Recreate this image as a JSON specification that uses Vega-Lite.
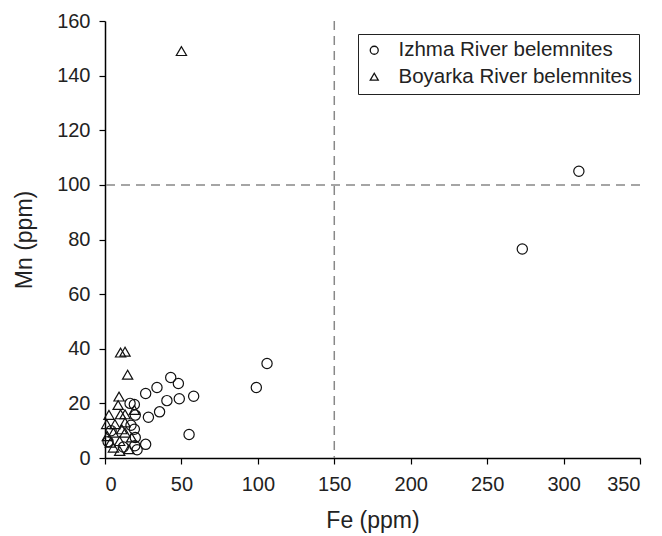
{
  "$schema": "https://vega.github.io/schema/vega-lite/v6.json",
  "width": 535,
  "height": 437,
  "autosize": {"type": "none"},
  "padding": {"left": 105, "top": 21, "right": 22, "bottom": 78},
  "background": "white",
  "config": {
    "view": {"stroke": null},
    "font": "Liberation Sans",
    "axis": {"domainColor": "#000", "domainWidth": 1.5, "tickColor": "#000", "tickWidth": 1.2, "tickSize": 6, "labelFontSize": 20, "labelColor": "#222", "titleFontSize": 23, "titleFontWeight": "normal", "titleColor": "#222", "grid": false}
  },
  "layer": [
    {
      "data": {"values": [{"v": 150}]},
      "mark": {"type": "rule", "strokeDash": [9, 6], "color": "#888", "strokeWidth": 1.5},
      "encoding": {"x": {"field": "v", "type": "quantitative"}}
    },
    {
      "data": {"values": [{"v": 100}]},
      "mark": {"type": "rule", "strokeDash": [9, 6], "color": "#888", "strokeWidth": 1.5},
      "encoding": {"y": {"field": "v", "type": "quantitative"}}
    },
    {
      "data": {"values": [
        {"group": "Izhma River belemnites", "Fe": 310, "Mn": 105},
        {"group": "Izhma River belemnites", "Fe": 273, "Mn": 76.5},
        {"group": "Izhma River belemnites", "Fe": 106, "Mn": 34.6},
        {"group": "Izhma River belemnites", "Fe": 99, "Mn": 25.8},
        {"group": "Izhma River belemnites", "Fe": 43, "Mn": 29.5},
        {"group": "Izhma River belemnites", "Fe": 48, "Mn": 27.3},
        {"group": "Izhma River belemnites", "Fe": 34, "Mn": 25.8},
        {"group": "Izhma River belemnites", "Fe": 26.6, "Mn": 23.6},
        {"group": "Izhma River belemnites", "Fe": 58, "Mn": 22.6},
        {"group": "Izhma River belemnites", "Fe": 48.6, "Mn": 21.7},
        {"group": "Izhma River belemnites", "Fe": 40.5, "Mn": 21},
        {"group": "Izhma River belemnites", "Fe": 35.7, "Mn": 16.9},
        {"group": "Izhma River belemnites", "Fe": 28.4, "Mn": 14.9},
        {"group": "Izhma River belemnites", "Fe": 55, "Mn": 8.6},
        {"group": "Izhma River belemnites", "Fe": 26.6, "Mn": 5},
        {"group": "Izhma River belemnites", "Fe": 19.2, "Mn": 19.6},
        {"group": "Izhma River belemnites", "Fe": 16.4, "Mn": 20},
        {"group": "Izhma River belemnites", "Fe": 19.8, "Mn": 15.7},
        {"group": "Izhma River belemnites", "Fe": 19.2, "Mn": 10.5},
        {"group": "Izhma River belemnites", "Fe": 19.8, "Mn": 7.5},
        {"group": "Izhma River belemnites", "Fe": 19.5, "Mn": 4.5},
        {"group": "Izhma River belemnites", "Fe": 21, "Mn": 3},
        {"group": "Izhma River belemnites", "Fe": 17, "Mn": 12},
        {"group": "Izhma River belemnites", "Fe": 4, "Mn": 10},
        {"group": "Izhma River belemnites", "Fe": 2, "Mn": 6},
        {"group": "Izhma River belemnites", "Fe": 12, "Mn": 4},
        {"group": "Boyarka River belemnites", "Fe": 50, "Mn": 149},
        {"group": "Boyarka River belemnites", "Fe": 10.2, "Mn": 38.6},
        {"group": "Boyarka River belemnites", "Fe": 13.1, "Mn": 38.9},
        {"group": "Boyarka River belemnites", "Fe": 14.8, "Mn": 30.5},
        {"group": "Boyarka River belemnites", "Fe": 9.2, "Mn": 22.5},
        {"group": "Boyarka River belemnites", "Fe": 8.6, "Mn": 19.4},
        {"group": "Boyarka River belemnites", "Fe": 19.2, "Mn": 17.6},
        {"group": "Boyarka River belemnites", "Fe": 2.6, "Mn": 15.8},
        {"group": "Boyarka River belemnites", "Fe": 10.2, "Mn": 16},
        {"group": "Boyarka River belemnites", "Fe": 13.1, "Mn": 16},
        {"group": "Boyarka River belemnites", "Fe": 6.5, "Mn": 12.4},
        {"group": "Boyarka River belemnites", "Fe": 13.1, "Mn": 13},
        {"group": "Boyarka River belemnites", "Fe": 1.1, "Mn": 12.4},
        {"group": "Boyarka River belemnites", "Fe": 13.1, "Mn": 9.3},
        {"group": "Boyarka River belemnites", "Fe": 5.5, "Mn": 9.3},
        {"group": "Boyarka River belemnites", "Fe": 17.4, "Mn": 7.5},
        {"group": "Boyarka River belemnites", "Fe": 3.5, "Mn": 5.6},
        {"group": "Boyarka River belemnites", "Fe": 9.6, "Mn": 6.2},
        {"group": "Boyarka River belemnites", "Fe": 5.5, "Mn": 3.8},
        {"group": "Boyarka River belemnites", "Fe": 15.7, "Mn": 3.2},
        {"group": "Boyarka River belemnites", "Fe": 9.6, "Mn": 2.6},
        {"group": "Boyarka River belemnites", "Fe": 1.5, "Mn": 8},
        {"group": "Boyarka River belemnites", "Fe": 11, "Mn": 10.5}
      ]},
      "mark": {"type": "point", "filled": false, "stroke": "#111", "strokeWidth": 1.2, "size": 105, "opacity": 1},
      "encoding": {
        "x": {"field": "Fe", "type": "quantitative", "title": "Fe (ppm)", "scale": {"domain": [0, 350], "nice": false}, "axis": {"values": [0, 50, 100, 150, 200, 250, 300, 350], "labelPadding": 10, "titlePadding": 15}},
        "y": {"field": "Mn", "type": "quantitative", "title": "Mn (ppm)", "scale": {"domain": [0, 160], "nice": false}, "axis": {"values": [0, 20, 40, 60, 80, 100, 120, 140, 160], "labelPadding": 9, "titlePadding": 20}},
        "shape": {
          "field": "group", "type": "nominal",
          "scale": {"domain": ["Izhma River belemnites", "Boyarka River belemnites"], "range": ["circle", "triangle-up"]},
          "legend": {"title": null, "orient": "none", "legendX": 253, "legendY": 13, "strokeColor": "#222", "fillColor": "white", "padding": 6, "labelFontSize": 20.5, "labelColor": "#222", "labelLimit": 400, "symbolSize": 64, "symbolStrokeColor": "#111", "symbolStrokeWidth": 1.3, "symbolFillColor": "transparent", "rowPadding": 5.5, "labelOffset": 14}
        }
      }
    }
  ]
}
